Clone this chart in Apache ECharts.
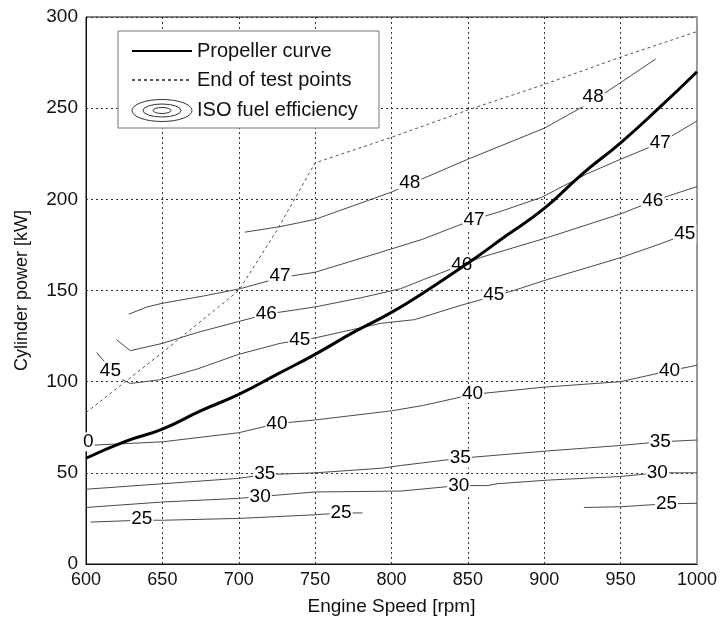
<!DOCTYPE html>
<html>
<head>
<meta charset="utf-8">
<title>Propeller curve and ISO fuel efficiency</title>
<script src="https://cdn.jsdelivr.net/npm/echarts/dist/echarts.min.js"></script>
<style>
  html, body { margin: 0; padding: 0; background: #fff; }
  #chart { width: 724px; height: 621px; }
</style>
</head>
<body>
<div id="chart"></div>
<script>
// --- data ---
// propeller curve
const propSpeed = [600, 625, 650, 675, 700, 725, 750, 775, 800, 825, 850, 875, 900, 925, 950, 975, 1000];
const propPower = [58, 67, 74, 84, 93, 104, 115, 127, 138, 151, 165, 180, 195, 214, 231, 250, 270];

// end of test points
const testSpeed = [600, 650, 700, 725, 750, 800, 850, 900, 950, 1000];
const testPower = [83, 116, 150, 183, 220, 234, 249, 263, 278, 292];

// ISO fuel efficiency contours (speed / power pairs)
const c48Speed = [704, 727, 750, 800, 850, 900, 930, 950, 973];
const c48Power = [182, 185, 189, 204, 222, 239, 253, 264, 277];
const c47Speed = [628, 640, 650, 677, 701, 727, 750, 793, 820, 854, 870, 898, 928, 950, 976, 1000];
const c47Power = [137, 141, 143, 147, 151, 157, 160, 171, 178, 189, 193, 201, 214, 222, 231, 243];
const c46Speed = [620, 629, 650, 673, 700, 718, 750, 780, 806, 821, 846, 858, 902, 950, 971, 1000];
const c46Power = [123, 117, 121, 127, 133, 137, 141, 146, 151, 156, 164, 168, 179, 192, 199, 207];
const c45Speed = [607, 616, 624, 629, 648, 673, 700, 727, 750, 793, 815, 846, 880, 902, 950, 974, 1000];
const c45Power = [116, 107, 101, 99, 101, 107, 115, 121, 124, 132, 134, 142, 150, 156, 168, 175, 183];
const c40Speed = [600, 650, 700, 725, 750, 800, 821, 853, 900, 950, 982, 1000];
const c40Power = [65, 67, 72, 77, 79, 84, 87, 93, 97, 100, 106, 109];
const c35Speed = [600, 650, 700, 717, 750, 793, 806, 845, 902, 950, 976, 1000];
const c35Power = [41, 44, 47, 49, 50, 52.5, 54, 58, 62, 65, 67, 68];
const c30Speed = [600, 650, 700, 714, 750, 806, 844, 863, 869, 902, 950, 974, 1000];
const c30Power = [31, 34, 36, 37, 39.5, 40, 43, 43, 44, 46, 48, 50, 50];
const c25aSpeed = [603, 636, 650, 700, 750, 767, 781];
const c25aPower = [23, 24, 24, 25, 27, 28, 28];
const c25bSpeed = [926, 950, 980, 1000];
const c25bPower = [31, 31.4, 33, 33.3];

// contour labels (text, position)
const labelText  = [48, 48, 47, 47, 47, 46, 46, 46, 45, 45, 45, 45, 0, 40, 40, 40, 35, 35, 35, 30, 30, 30, 25, 25, 25];
const labelSpeed = [812, 932, 727, 854, 976, 718, 846, 971, 616, 740, 867, 992, 601.5, 725, 853, 982, 717, 845, 976, 714, 844, 974, 636.5, 767, 980];
const labelPower = [209, 256, 158, 189, 231, 137.5, 164, 199, 106, 123, 147.5, 181, 67, 77, 93.5, 106, 49.4, 58, 67, 37, 43, 50, 25, 28, 33.3];

const FONT = '"Liberation Sans", Arial, Helvetica, sans-serif';
const zip = (xs, ys) => xs.map((x, i) => [x, ys[i]]);

const contours = [
  [c48Speed, c48Power], [c47Speed, c47Power], [c46Speed, c46Power], [c45Speed, c45Power],
  [c40Speed, c40Power], [c35Speed, c35Power], [c30Speed, c30Power],
  [c25aSpeed, c25aPower], [c25bSpeed, c25bPower]
];

// 等值线图例图标（同心椭圆）
const isoIcon = 'path://M0,11 A30,11 0 1,0 60,11 A30,11 0 1,0 0,11 Z ' +
  'M11,11 A19,6.5 0 1,0 49,11 A19,6.5 0 1,0 11,11 Z ' +
  'M21,11 A9,3 0 1,0 39,11 A9,3 0 1,0 21,11 Z';

const chart = echarts.init(document.getElementById('chart'));

const gridLine = { show: true, lineStyle: { color: '#333', width: 1, type: [2, 3] } };

const series = [];
contours.forEach(([xs, ys]) => {
  series.push({
    name: 'ISO fuel efficiency',
    type: 'line',
    data: zip(xs, ys),
    symbol: 'none',
    smooth: false,
    lineStyle: { color: '#4a4a4a', width: 1 },
    z: 2,
    silent: true
  });
});

series.push({
  name: 'End of test points',
  type: 'line',
  data: zip(testSpeed, testPower),
  symbol: 'none',
  lineStyle: { color: '#555', width: 1, type: [3, 3] },
  z: 2,
  silent: true
});

series.push({
  name: 'contour labels',
  type: 'scatter',
  data: labelSpeed.map((x, i) => [x, labelPower[i], labelText[i]]),
  symbolSize: 1,
  itemStyle: { color: 'transparent', opacity: 1 },
  silent: true,
  z: 3,
  label: {
    show: true,
    position: 'inside',
    formatter: (p) => String(p.value[2]),
    fontFamily: FONT,
    fontSize: 19,
    color: '#000',
    opacity: 1,
    backgroundColor: '#fff',
    padding: [0, 1]
  }
});

series.push({
  name: 'Propeller curve',
  type: 'line',
  data: zip(propSpeed, propPower),
  symbol: 'none',
  smooth: true,
  lineStyle: { color: '#000', width: 3 },
  z: 4,
  silent: true
});

chart.setOption({
  backgroundColor: '#fff',
  animation: false,
  textStyle: { fontFamily: FONT },
  grid: {
    left: 86, right: 27, top: 17, bottom: 57,
    show: true, borderColor: '#111', borderWidth: 1,
    containLabel: false, outerBoundsMode: 'none'
  },
  legend: {
    orient: 'vertical',
    left: 118, top: 31,
    itemWidth: 60, itemHeight: 22, itemGap: 9,
    padding: [10, 10, 6, 13],
    borderColor: '#777', borderWidth: 1, backgroundColor: '#fff',
    selectedMode: false,
    textStyle: { fontFamily: FONT, fontSize: 20, color: '#111', lineHeight: 20, width: 172 },
    data: [
      { name: 'Propeller curve', itemStyle: { color: 'transparent', borderWidth: 0, opacity: 0 } },
      { name: 'End of test points', itemStyle: { color: 'transparent', borderWidth: 0, opacity: 0 } },
      { name: 'ISO fuel efficiency', icon: isoIcon,
        itemStyle: { color: 'transparent', borderColor: '#333', borderWidth: 1, opacity: 1 } }
    ]
  },
  xAxis: {
    type: 'value',
    min: 600, max: 1000, interval: 50,
    name: 'Engine Speed [rpm]',
    nameLocation: 'middle', nameGap: 33, nameMoveOverlap: false,
    nameTextStyle: { fontFamily: FONT, fontSize: 19, color: '#111' },
    axisLine: { show: true, lineStyle: { color: '#111', width: 1 } },
    axisTick: { show: false },
    axisLabel: { fontFamily: FONT, fontSize: 18, color: '#111', margin: 7, formatter: (v) => String(v) },
    splitLine: gridLine
  },
  yAxis: [
    {
      type: 'value',
      min: 0, max: 300, interval: 50,
      name: 'Cylinder power [kW]',
      nameLocation: 'middle', nameGap: 55, nameMoveOverlap: false,
      nameTextStyle: { fontFamily: FONT, fontSize: 18, color: '#111' },
      axisLine: { show: true, lineStyle: { color: '#111', width: 1 } },
      axisTick: { show: false },
      axisLabel: { fontFamily: FONT, fontSize: 19, color: '#111', margin: 8, formatter: (v) => String(v) },
      splitLine: gridLine
    },
    {
      type: 'value',
      min: 0, max: 300, interval: 50,
      position: 'right',
      axisLine: { show: true, lineStyle: { color: '#9a9a9a', width: 2 } },
      axisTick: { show: false },
      axisLabel: { show: false },
      splitLine: { show: false }
    }
  ],
  tooltip: { show: false },
  series: series
});
</script>
</body>
</html>
